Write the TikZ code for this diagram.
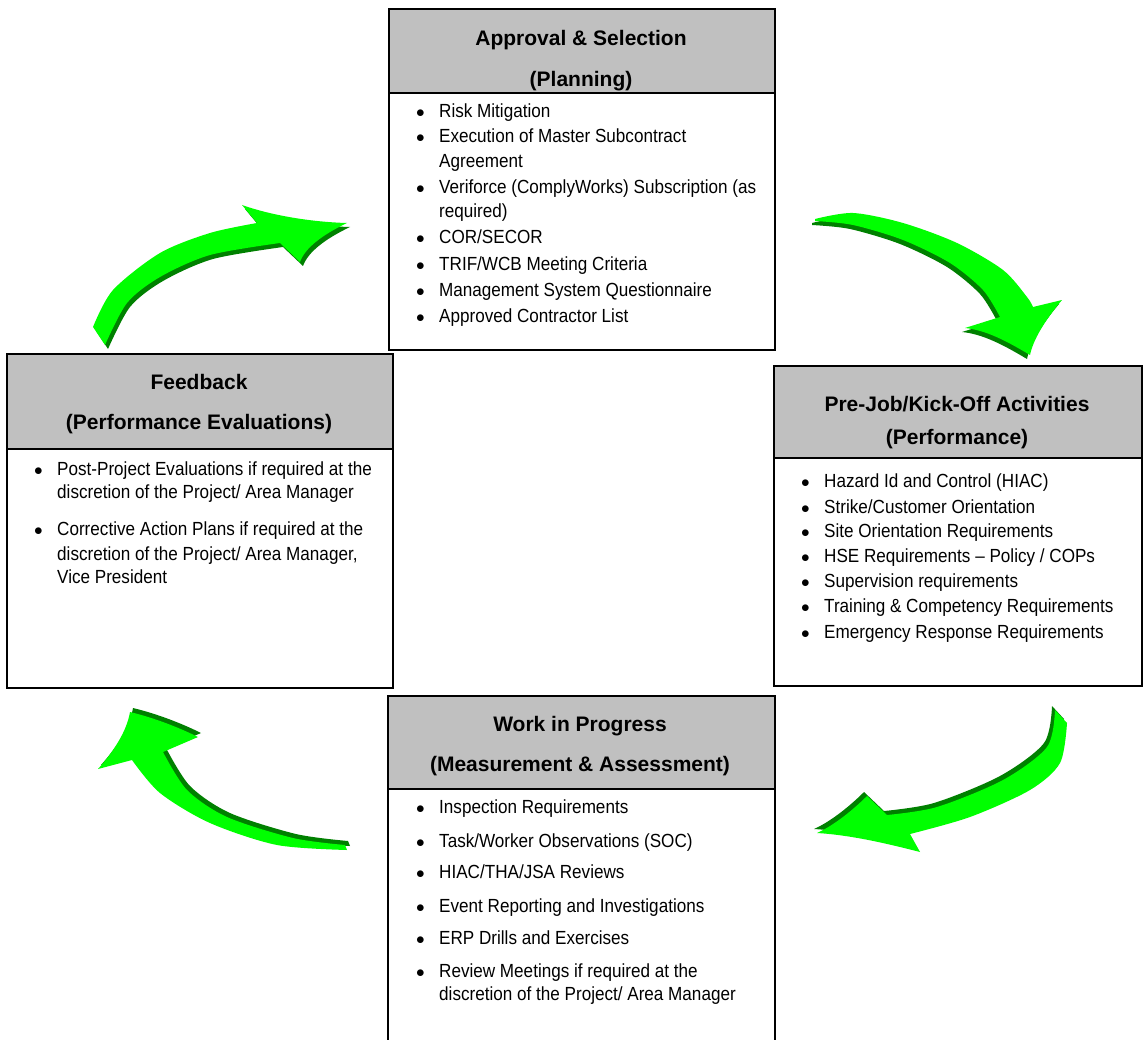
\documentclass[tikz,border=0pt]{standalone}
\usepackage{fontspec}
\setmainfont{Liberation Sans}
\newfontfamily\bodyfont[FakeStretch=0.9]{Liberation Sans}

\definecolor{headgray}{HTML}{C0C0C0}
\definecolor{arrowgreen}{HTML}{00FF00}
\definecolor{arrowdark}{HTML}{008000}

\newcommand{\bul}{\makebox[22pt][l]{\hspace{-1pt}$\bullet$}}

\tikzset{
	headbox/.style={draw, fill=headgray, line width=2pt, anchor=north west, inner sep=0pt},
	bodybox/.style={draw, line width=2pt, anchor=north west, inner sep=0pt},
	title/.style={font=\fontsize{21}{25}\selectfont\bfseries, inner sep=0pt, text height=15pt, text depth=4pt},
	item/.style={font=\bodyfont\fontsize{19}{23}\selectfont, anchor=west, inner sep=0pt, text height=14pt, text depth=4pt}
}

\begin{document}
\begin{tikzpicture}[x=1pt, y=-1pt]

	\useasboundingbox (0,0) rectangle (1147,1040);

	% green arrows (shadow first, then face)
	\foreach \c/\s in {arrowdark/1, arrowgreen/0} {
		\fill[\c, shift={(3*\s,4*\s)}] plot[smooth] coordinates {(93,327) (113,290) (160,253) (210,233) (257,223)}
			-- (242,205) .. controls (270,215) and (310,222) .. (347,223)
			.. controls (322,235) and (305,248) .. (300,262)
			-- (280,243)
			-- plot[smooth] coordinates {(280,243) (210,255) (160,277) (127,303) (105,345)}
			-- cycle;
		\fill[\c, shift={(-3*\s,4*\s)}] plot[smooth] coordinates {(815,219) (853,213) (903,223) (957,243) (1003,270) (1027,297) (1033,307)}
			-- (1062,300) .. controls (1045,320) and (1033,340) .. (1030,355)
			.. controls (1005,340) and (985,330) .. (965,328)
			-- (1000,317)
			-- plot[smooth] coordinates {(1000,317) (983,290) (950,263) (903,240) (853,225) (815,221)}
			-- cycle;
		\fill[\c, shift={(-3*\s,-4*\s)}] plot[smooth] coordinates {(1055,710) (1047,747) (1003,780) (937,807) (887,815)}
			-- (867,796) .. controls (855,808) and (835,825) .. (817,833)
			.. controls (850,835) and (885,843) .. (920,852)
			-- (910,834)
			-- plot[smooth] coordinates {(910,834) (970,817) (1030,790) (1060,763) (1067,723)}
			-- cycle;
		\fill[\c, shift={(3*\s,-4*\s)}] plot[smooth] coordinates {(347,850) (277,845) (210,823) (160,793) (132,760)}
			-- (98,769) .. controls (115,750) and (127,730) .. (130,712)
			.. controls (155,718) and (180,728) .. (198,737)
			-- (163,752)
			-- plot[smooth] coordinates {(163,752) (187,790) (227,817) (293,838) (345,845)}
			-- cycle;
	}

	% approval
	\node[headbox, minimum width=386pt, minimum height=84pt] (apphead) at (388,8) {};
	\node[bodybox, minimum width=386pt, minimum height=257pt] (appbody) at (388,92) {};
	\node[title] (appt1) at (581,40) {Approval \& Selection};
	\node[title] (appt2) at (581,81) {(Planning)};
	\node[item] (app1) at (417,113) {\bul Risk Mitigation};
	\node[item] (app2) at (417,138) {\bul Execution of Master Subcontract};
	\node[item] (app2b) at (439,163) {Agreement};
	\node[item] (app3) at (417,189) {\bul Veriforce (ComplyWorks) Subscription (as};
	\node[item] (app3b) at (439,213) {required)};
	\node[item] (app4) at (417,239) {\bul COR/SECOR};
	\node[item] (app5) at (417,266) {\bul TRIF/WCB Meeting Criteria};
	\node[item] (app6) at (417,292) {\bul Management System Questionnaire};
	\node[item] (app7) at (417,317) {\bul Approved Contractor List};

	% feedback
	\node[headbox, minimum width=386pt, minimum height=95pt] (feedhead) at (6,353) {};
	\node[bodybox, minimum width=386pt, minimum height=239pt] (feedbody) at (6,448) {};
	\node[title] (feedt1) at (199,384) {Feedback};
	\node[title] (feedt2) at (199,424) {(Performance Evaluations)};
	\node[item] (feed1) at (35,470) {\bul Post-Project Evaluations if required at the};
	\node[item] (feed1b) at (57,493) {discretion of the Project/ Area Manager};
	\node[item] (feed2) at (35,530) {\bul Corrective Action Plans if required at the};
	\node[item] (feed2b) at (57,555) {discretion of the Project/ Area Manager,};
	\node[item] (feed2c) at (57,578) {Vice President};

	% pre-job
	\node[headbox, minimum width=368pt, minimum height=92pt] (prehead) at (773,365) {};
	\node[bodybox, minimum width=368pt, minimum height=228pt] (prebody) at (773,457) {};
	\node[title] (pret1) at (957,406) {Pre-Job/Kick-Off Activities};
	\node[title] (pret2) at (957,439) {(Performance)};
	\node[item] (pre1) at (802,482) {\bul Hazard Id and Control (HIAC)};
	\node[item] (pre2) at (802,508) {\bul Strike/Customer Orientation};
	\node[item] (pre3) at (802,532) {\bul Site Orientation Requirements};
	\node[item] (pre4) at (802,557) {\bul HSE Requirements – Policy / COPs};
	\node[item] (pre5) at (802,582) {\bul Supervision requirements};
	\node[item] (pre6) at (802,607) {\bul Training \& Competency Requirements};
	\node[item] (pre7) at (802,633) {\bul Emergency Response Requirements};

	% work in progress
	\node[headbox, minimum width=387pt, minimum height=93pt] (workhead) at (387,695) {};
	\node[bodybox, minimum width=387pt, minimum height=270pt] (workbody) at (387,788) {};
	\node[title] (workt1) at (580,726) {Work in Progress};
	\node[title] (workt2) at (580,766) {(Measurement \& Assessment)};
	\node[item] (work1) at (417,808) {\bul Inspection Requirements};
	\node[item] (work2) at (417,842) {\bul Task/Worker Observations (SOC)};
	\node[item] (work3) at (417,873) {\bul HIAC/THA/JSA Reviews};
	\node[item] (work4) at (417,907) {\bul Event Reporting and Investigations};
	\node[item] (work5) at (417,939) {\bul ERP Drills and Exercises};
	\node[item] (work6) at (417,972) {\bul Review Meetings if required at the};
	\node[item] (work6b) at (439,995) {discretion of the Project/ Area Manager};

\end{tikzpicture}
\end{document}
